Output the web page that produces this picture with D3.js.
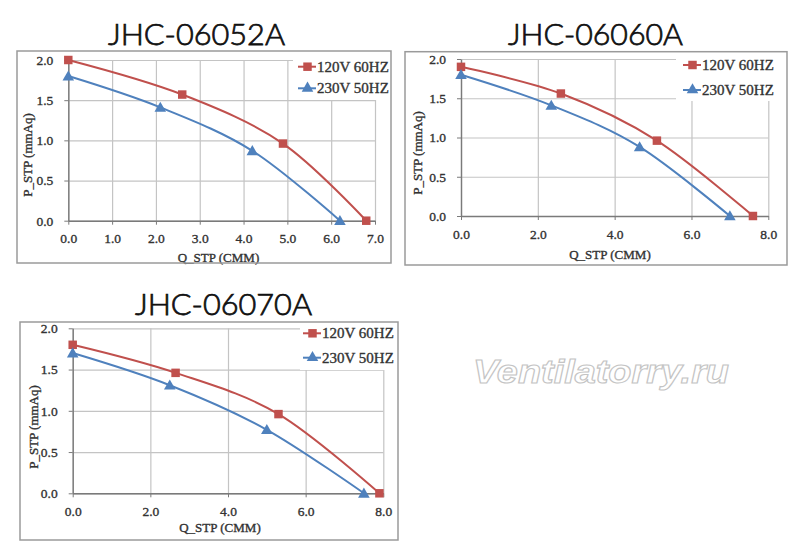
<!DOCTYPE html>
<html>
<head>
<meta charset="utf-8">
<script src="https://cdn.jsdelivr.net/npm/d3@7/dist/d3.min.js"></script>
<style>
  html, body { margin: 0; padding: 0; background: #fff; }
  svg { display: block; }
</style>
</head>
<body>
<svg id="chart" width="800" height="553"></svg>
<script>
// ---------- data ----------
const titles = ["JHC-06052A", "JHC-06060A", "JHC-06070A"];
const seriesNames = ["120V 60HZ", "230V 50HZ"];
const xAxisTitle = "Q_STP (CMM)";
const yAxisTitle = "P_STP (mmAq)";
const xMaxes = [7, 8, 8];
const xTicksA = [0, 1, 2, 3, 4, 5, 6, 7];
const xTicksB = [0, 2, 4, 6, 8];
const yTicks = [0, 0.5, 1.0, 1.5, 2.0];

// JHC-06052A
const q120_06052 = [0, 2.6, 4.9, 6.8];
const p120_06052 = [2.0, 1.57, 0.96, 0];
const q230_06052 = [0, 2.1, 4.2, 6.2];
const p230_06052 = [1.8, 1.41, 0.87, 0];
// JHC-06060A
const q120_06060 = [0, 2.6, 5.1, 7.6];
const p120_06060 = [1.9, 1.56, 0.96, 0];
const q230_06060 = [0, 2.35, 4.65, 7.0];
const p230_06060 = [1.8, 1.41, 0.88, 0];
// JHC-06070A
const q120_06070 = [0, 2.65, 5.3, 7.9];
const p120_06070 = [1.8, 1.46, 0.96, 0];
const q230_06070 = [0, 2.5, 5.0, 7.5];
const p230_06070 = [1.7, 1.31, 0.77, 0];

const watermark = "Ventilatorry.ru";

// ---------- build ----------
const zip = (xs, ys) => xs.map((x, i) => ({ q: x, p: ys[i] }));
const chartData = [
  { title: titles[0], xMax: xMaxes[0], xTicks: xTicksA,
    series: [zip(q120_06052, p120_06052), zip(q230_06052, p230_06052)] },
  { title: titles[1], xMax: xMaxes[1], xTicks: xTicksB,
    series: [zip(q120_06060, p120_06060), zip(q230_06060, p230_06060)] },
  { title: titles[2], xMax: xMaxes[2], xTicks: xTicksB,
    series: [zip(q120_06070, p120_06070), zip(q230_06070, p230_06070)] }
];

const layouts = [
  { frame: [17, 51, 391, 263], plot: [68.3, 375, 60, 220.7],
    title: [196.5, 45, 177], xTitle: [218.5, 262], yTitle: [27, 155],
    legend: { box: [293, 52, 390, 100], lineX: 298, textX: 317, rows: [66.7, 88.3] } },
  { frame: [405, 51.7, 787, 265], plot: [461, 768.3, 59, 216],
    title: [595.5, 45, 175], xTitle: [610, 259], yTitle: [417, 153],
    legend: { box: [676, 53, 786, 101], lineX: 683, textX: 702, rows: [65, 90] } },
  { frame: [20, 322, 398, 540], plot: [72.7, 383.3, 328.3, 493.3],
    title: [223.5, 314.5, 177], xTitle: [220, 532], yTitle: [33, 427],
    legend: { box: [300, 323, 397, 370], lineX: 303, textX: 322, rows: [333.3, 357.7] } }
];

const colors = ["#C0504D", "#4F81BD"];
const serif = "'Liberation Serif', 'Times New Roman', serif";
const ink = "#333";
const svg = d3.select("#chart");

const sq = d3.symbol().type(d3.symbolSquare).size(72);
const tri = d3.symbol().type(d3.symbolTriangle).size(58);
const symbols = [sq, tri];

function inkText(sel, size) {
  return sel.attr("font-family", serif).attr("font-size", size)
    .attr("fill", ink).attr("stroke", ink).attr("stroke-width", 0.35);
}

chartData.forEach((cd, ci) => {
  const L = layouts[ci];
  const g = svg.append("g");
  const [pl, pr, pt, pb] = L.plot;
  const x = d3.scaleLinear().domain([0, cd.xMax]).range([pl, pr]);
  const y = d3.scaleLinear().domain([0, 2]).range([pb, pt]);

  // title
  g.append("text")
    .attr("x", L.title[0]).attr("y", L.title[1])
    .attr("text-anchor", "middle")
    .attr("font-family", "Lato, 'DejaVu Sans', sans-serif")
    .attr("font-weight", 300)
    .attr("font-size", 30)
    .attr("fill", "#111").attr("stroke", "#111").attr("stroke-width", 0.75)
    .attr("textLength", L.title[2])
    .attr("lengthAdjust", "spacingAndGlyphs")
    .text(cd.title);

  // gridlines
  const gx = g.append("g").attr("transform", `translate(0,${pb})`)
    .call(d3.axisBottom(x).tickValues(cd.xTicks).tickSize(-(pb - pt)).tickFormat(""));
  gx.select(".domain").remove();
  gx.selectAll(".tick line").attr("stroke", "#c4c4c4").attr("stroke-width", 1.2);
  const gy = g.append("g").attr("transform", `translate(${pl},0)`)
    .call(d3.axisLeft(y).tickValues(yTicks).tickSize(-(pr - pl)).tickFormat(""));
  gy.select(".domain").remove();
  gy.selectAll(".tick line").attr("stroke", "#c4c4c4").attr("stroke-width", 1.2);

  // legend background (hides grid)
  const lb = L.legend.box;
  g.append("rect").attr("x", lb[0]).attr("y", lb[1])
    .attr("width", lb[2] - lb[0]).attr("height", lb[3] - lb[1])
    .attr("fill", "#fff");

  // axes
  const ax = g.append("g").attr("transform", `translate(0,${pb})`)
    .call(d3.axisBottom(x).tickValues(cd.xTicks).tickSize(4).tickSizeOuter(0)
      .tickPadding(9).tickFormat(d3.format(".1f")));
  const ay = g.append("g").attr("transform", `translate(${pl},0)`)
    .call(d3.axisLeft(y).tickValues(yTicks).tickSize(4).tickSizeOuter(0)
      .tickPadding(11).tickFormat(d3.format(".1f")));
  [ax, ay].forEach(a => {
    a.select(".domain").attr("stroke", "#7a7a7a").attr("stroke-width", 1.4);
    a.selectAll(".tick line").attr("stroke", "#7a7a7a");
    inkText(a.selectAll(".tick text"), 13.5);
  });

  // axis titles
  inkText(g.append("text").attr("x", L.xTitle[0]).attr("y", L.xTitle[1])
    .attr("text-anchor", "middle"), 13).text(xAxisTitle);
  inkText(g.append("text")
    .attr("transform", `translate(${L.yTitle[0]},${L.yTitle[1]}) rotate(-90)`)
    .attr("text-anchor", "middle").attr("dy", "0.35em"), 13).text(yAxisTitle);

  // series
  const line = d3.line().x(d => x(d.q)).y(d => y(d.p)).curve(d3.curveCardinal.tension(0));
  cd.series.forEach((s, si) => {
    g.append("path").datum(s).attr("d", line)
      .attr("fill", "none").attr("stroke", colors[si]).attr("stroke-width", 2);
    g.selectAll(null).data(s).enter().append("path")
      .attr("d", symbols[si])
      .attr("transform", d => `translate(${x(d.q)},${y(d.p) + (si === 1 ? 1 : 0)})`)
      .attr("fill", colors[si]);
  });

  // legend items
  seriesNames.forEach((name, si) => {
    const ry = L.legend.rows[si];
    g.append("line").attr("x1", L.legend.lineX).attr("x2", L.legend.textX - 1)
      .attr("y1", ry).attr("y2", ry)
      .attr("stroke", colors[si]).attr("stroke-width", 2);
    g.append("path").attr("d", symbols[si])
      .attr("transform", `translate(${(L.legend.lineX + L.legend.textX) / 2},${ry})`)
      .attr("fill", colors[si]);
    inkText(g.append("text").attr("x", L.legend.textX).attr("y", ry + 5), 15)
      .text(name);
  });

  // outer frame
  const f = L.frame;
  g.append("rect").attr("x", f[0]).attr("y", f[1])
    .attr("width", f[2] - f[0]).attr("height", f[3] - f[1])
    .attr("fill", "none").attr("stroke", "#9a9a9a").attr("stroke-width", 1.5);
});

// watermark
svg.append("text")
  .attr("x", 473).attr("y", 383)
  .attr("font-family", "'Liberation Sans', Arial, sans-serif")
  .attr("font-weight", "bold").attr("font-style", "italic")
  .attr("font-size", 33)
  .attr("textLength", 256).attr("lengthAdjust", "spacingAndGlyphs")
  .attr("fill", "#fff").attr("stroke", "#c4c4c4").attr("stroke-width", 1.1)
  .text(watermark);
</script>
</body>
</html>
